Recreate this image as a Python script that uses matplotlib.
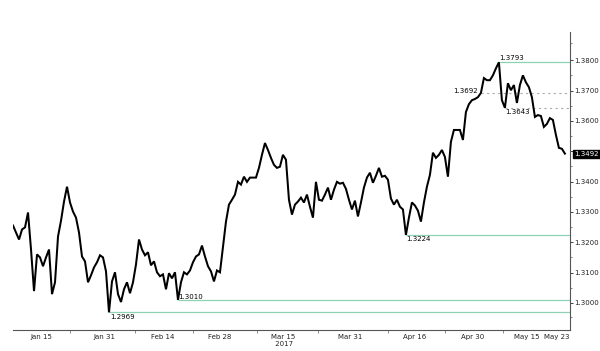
import numpy as np
import matplotlib
matplotlib.use("Agg")
import matplotlib.pyplot as plt
from matplotlib.ticker import FixedLocator, NullFormatter

# USD/CAD close, Jan - May 2017 (evenly spaced samples)
closes = [
    1.3255, 1.3232, 1.3209, 1.3242, 1.3249, 1.3298, 1.3176, 1.3039, 1.3160, 1.3150,
    1.3121, 1.3150, 1.3176, 1.3029, 1.3068, 1.3219, 1.3271, 1.3334, 1.3383, 1.3331,
    1.3301, 1.3281, 1.3232, 1.3153, 1.3137, 1.3068, 1.3091, 1.3117, 1.3134, 1.3157,
    1.3150, 1.3104, 1.2969, 1.3071, 1.3101, 1.3029, 1.3003, 1.3045, 1.3068, 1.3032,
    1.3068, 1.3127, 1.3209, 1.3176, 1.3157, 1.3167, 1.3124, 1.3137, 1.3101, 1.3088,
    1.3094, 1.3045, 1.3098, 1.3081, 1.3101, 1.3010, 1.3068, 1.3101, 1.3094, 1.3107,
    1.3134, 1.3153, 1.3160, 1.3189, 1.3153, 1.3121, 1.3104, 1.3071, 1.3107, 1.3101,
    1.3183, 1.3268, 1.3324, 1.3340, 1.3357, 1.3399, 1.3390, 1.3416, 1.3399, 1.3413,
    1.3413, 1.3413, 1.3445, 1.3488, 1.3527, 1.3504, 1.3478, 1.3455, 1.3445, 1.3449,
    1.3488, 1.3472, 1.3340, 1.3291, 1.3324, 1.3334, 1.3347, 1.3331, 1.3357, 1.3317,
    1.3281, 1.3399, 1.3340, 1.3337, 1.3357, 1.3380, 1.3340, 1.3373, 1.3399, 1.3393,
    1.3396, 1.3376, 1.3340, 1.3308, 1.3337, 1.3285, 1.3331, 1.3380, 1.3413, 1.3429,
    1.3396, 1.3419, 1.3445, 1.3416, 1.3419, 1.3406, 1.3344, 1.3324, 1.3340, 1.3317,
    1.3308, 1.3224, 1.3281, 1.3331, 1.3321, 1.3304, 1.3268, 1.3331, 1.3383, 1.3422,
    1.3495, 1.3478, 1.3488, 1.3504, 1.3481, 1.3416, 1.3531, 1.3570, 1.3570, 1.3570,
    1.3537, 1.3629, 1.3655, 1.3668, 1.3672, 1.3678, 1.3692, 1.3741, 1.3734, 1.3734,
    1.3750, 1.3773, 1.3793, 1.3668, 1.3643, 1.3724, 1.3701, 1.3718, 1.3659, 1.3718,
    1.3750, 1.3727, 1.3711, 1.3678, 1.3613, 1.3619, 1.3616, 1.3580, 1.3590, 1.3609,
    1.3603, 1.3554, 1.3511, 1.3508, 1.3492,
]

support_resist = [1.3793, 1.3224, 1.3010, 1.2969]   # green lines
dashed_levels = [1.3692, 1.3643]                     # grey dotted lines

date_labels = ["Jan 15", "Jan 31", "Feb 14", "Feb 28", "Mar 15\n 2017",
               "Mar 31", "Apr 16", "Apr 30", "May 15", "May 23"]
label_pos = [9.5, 30.5, 50, 69, 90, 112.3, 134, 153.3, 171.3, 181.3]
sep_pos = [19, 40.7, 60, 81.3, 101.7, 125, 144, 163.3]

y_ticks = [1.30, 1.31, 1.32, 1.33, 1.34, 1.35, 1.36, 1.37, 1.38]

x = np.arange(len(closes))
closes = np.array(closes)

fig = plt.figure(figsize=(6.0, 3.51), dpi=100)
ax = fig.add_axes([0.0217, 0.06, 0.9283, 0.849])

ax.plot(x, closes, color="black", lw=1.45, solid_joinstyle="miter")

green = "#8ed2b3"
for lvl in support_resist:
    i0 = int(np.argmin(np.abs(closes - lvl)))
    ax.hlines(lvl, i0, x[-1] + 2, color=green, lw=0.9, zorder=1)

for lvl in dashed_levels:
    i0 = int(np.argmin(np.abs(closes - lvl)))
    ax.hlines(lvl, i0, x[-1] + 2, color="#aaaaaa", lw=0.8, linestyles=(0, (2, 3)), zorder=1)

fs = 5
# level labels
lab = {1.3793: ("left", "bottom", 0, 1), 1.3692: ("right", "bottom", -2, -1),
       1.3643: ("left", "top", 0, -1), 1.3224: ("left", "top", 0, -1),
       1.3010: ("left", "bottom", 0, 0), 1.2969: ("left", "top", 1, -1)}
for lvl, (ha, va, dx, dy) in lab.items():
    i0 = int(np.argmin(np.abs(closes - lvl)))
    ax.annotate(f"{lvl:.4f}", (i0, lvl), xytext=(dx, dy), textcoords="offset points",
                ha=ha, va=va, fontsize=fs, color="black")

ax.set_xlim(0, 185.7)
ax.set_ylim(1.2911, 1.3893)

ax.spines["left"].set_visible(False)
ax.spines["top"].set_visible(False)
ax.spines["right"].set_color("#555555")
ax.spines["bottom"].set_color("#555555")
ax.spines["right"].set_linewidth(0.8)
ax.spines["bottom"].set_linewidth(0.8)

ax.yaxis.tick_right()
ax.set_yticks(y_ticks)
ax.set_yticklabels(["" if abs(t - 1.35) < 1e-9 else f"{t:.4f}" for t in y_ticks])
ax.yaxis.set_minor_locator(FixedLocator([t + 0.005 for t in y_ticks[:-1]] + [1.2955, 1.3855]))
ax.tick_params(axis="y", which="major", length=2, width=0.6, pad=1, labelsize=fs,
               colors="#222222")
ax.tick_params(axis="y", which="minor", length=1.5, width=0.5, colors="#555555")

ax.set_xticks(label_pos)
ax.set_xticklabels(date_labels)
ax.xaxis.set_minor_locator(FixedLocator(sep_pos))
ax.xaxis.set_minor_formatter(NullFormatter())
ax.tick_params(axis="x", which="major", length=0, pad=3, labelsize=fs, colors="#222222")
ax.tick_params(axis="x", which="minor", length=2, width=0.6, colors="#777777")

# last price box
ax.annotate(f"{closes[-1]:.4f}", xy=(1, closes[-1]), xycoords=("axes fraction", "data"),
            xytext=(3, 0), textcoords="offset points", ha="left", va="center",
            fontsize=fs, color="white",
            bbox=dict(boxstyle="square,pad=0.15", fc="black", ec="black"))

fig.savefig("out.png", dpi=100)
